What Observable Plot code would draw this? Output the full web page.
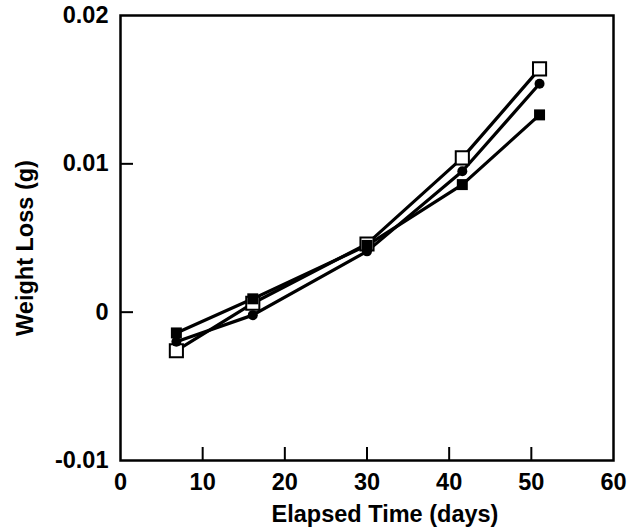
<!DOCTYPE html>
<html>
<head>
<meta charset="utf-8">
<script src="https://cdn.jsdelivr.net/npm/d3@7"></script>
<script src="https://cdn.jsdelivr.net/npm/@observablehq/plot@0.6"></script>
<style>
  html, body { margin: 0; padding: 0; background: #fff; }
</style>
</head>
<body>
<div id="chart"></div>
<script>
const days = [6.8, 16.1, 30.0, 41.6, 51.0];
const openSquare = [-0.0026, 0.0006, 0.0046, 0.0104, 0.0164];
const filledCircle = [-0.0020, -0.0002, 0.0041, 0.0095, 0.0154];
const filledSquare = [-0.0014, 0.0009, 0.0045, 0.0086, 0.0133];
const xTicks = [0, 10, 20, 30, 40, 50, 60];
const yTicks = [-0.01, 0, 0.01, 0.02];
const xLabel = "Elapsed Time (days)";
const yLabel = "Weight Loss (g)";

const mk = (vals) => days.map((d, i) => ({x: d, y: vals[i]}));
const sOpen = mk(openSquare), sCircle = mk(filledCircle), sFilled = mk(filledSquare);

const W = 640, H = 531, mL = 120, mR = 27, mT = 15, mB = 71;
const fw = W - mL - mR, fh = H - mT - mB;
const font = {fontSize: 23.5, fontWeight: "bold"};

const chart = Plot.plot({
  width: W, height: H,
  marginLeft: mL, marginRight: mR, marginTop: mT, marginBottom: mB,
  style: {fontFamily: "'Liberation Sans', Arial, sans-serif", fontSize: "23px", fontWeight: "bold", color: "#000", background: "#fff"},
  x: {domain: [0, 60]},
  y: {domain: [-0.01, 0.02]},
  marks: [
    Plot.axisX({ticks: xTicks, tickSize: 0, tickPadding: 13, label: null, ...font}),
    Plot.axisY({ticks: yTicks, tickSize: 0, tickPadding: 12, label: null,
      tickFormat: d => d === 0 ? "0" : d.toFixed(2), ...font}),
    Plot.ruleX(xTicks.slice(1, -1), {insetTop: fh - 13, stroke: "#000", strokeWidth: 2}),
    Plot.ruleY([0, 0.01], {insetRight: fw - 13, stroke: "#000", strokeWidth: 2}),
    Plot.frame({stroke: "#000", strokeWidth: 2.5}),
    Plot.line(sOpen, {x: "x", y: "y", stroke: "#000", strokeWidth: 3.2}),
    Plot.line(sCircle, {x: "x", y: "y", stroke: "#000", strokeWidth: 3.2}),
    Plot.line(sFilled, {x: "x", y: "y", stroke: "#000", strokeWidth: 3.2}),
    Plot.dot(sOpen, {x: "x", y: "y", symbol: "square", r: 7.4, fill: "#fff", stroke: "#000", strokeWidth: 2}),
    Plot.dot(sFilled, {x: "x", y: "y", symbol: "square", r: 6.2, fill: "#000", stroke: "none"}),
    Plot.dot(sCircle, {x: "x", y: "y", symbol: "circle", r: 5, fill: "#000", stroke: "none"}),
    Plot.text([yLabel], {frameAnchor: "left", textAnchor: "middle", rotate: -90, dx: -95, dy: 10, ...font, fill: "#000"}),
    Plot.text([xLabel], {frameAnchor: "bottom", textAnchor: "middle", dx: 18, dy: 61, ...font, fill: "#000"})
  ]
});
document.getElementById("chart").appendChild(chart);
</script>
</body>
</html>
